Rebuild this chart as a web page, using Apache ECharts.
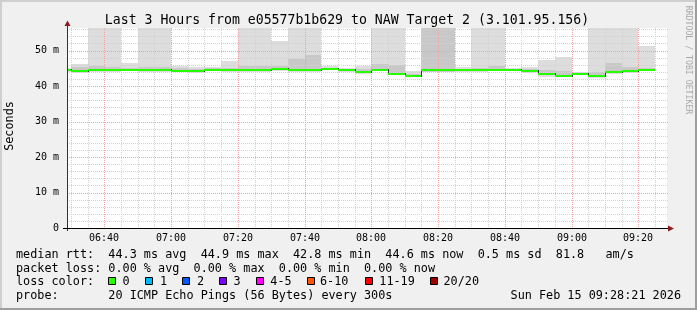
<!DOCTYPE html>
<html><head><meta charset="utf-8">
<script src="https://cdn.jsdelivr.net/npm/echarts@6/dist/echarts.min.js"></script>
<style>html,body{margin:0;padding:0;background:#f0f0f0}#c{width:697px;height:310px}</style>
</head><body><div id="c"></div>
<script>
// ---- data (5-minute SmokePing steps, values in ms) ----
const intervalStart = ['06:25','06:30','06:35','06:40','06:45','06:50','06:55','07:00','07:05','07:10',
  '07:15','07:20','07:25','07:30','07:35','07:40','07:45','07:50','07:55','08:00',
  '08:05','08:10','08:15','08:20','08:25','08:30','08:35','08:40','08:45','08:50',
  '08:55','09:00','09:05','09:10','09:15','09:20'];
const medianRtt = [44.5,44.3,44.6,44.6,44.6,44.6,44.6,44.3,44.35,44.6,
  44.4,44.4,44.4,44.9,44.6,44.6,44.9,44.4,44.0,44.6,
  43.5,42.9,44.4,44.4,44.4,44.4,44.6,44.6,44.2,43.3,
  42.9,43.5,42.7,44.0,44.3,44.6];
const smokeLow = [44.0,43.8,44.0,44.0,44.1,44.0,44.0,43.9,43.8,44.1,
  43.9,43.9,43.9,44.3,44.0,44.0,44.4,44.0,43.4,44.1,
  43.0,42.4,43.9,43.9,43.9,43.9,44.1,44.1,43.7,42.6,
  42.4,43.1,42.2,43.5,43.8,44.1];
const smokeHigh = [45.0,46.2,57,57,46.4,57,57,45.7,45.4,45.4,
  47.1,57,57,52.8,57,57,45.5,45.0,45.7,57,
  57,44.2,57,57,45.3,57,57,45.1,45.3,47.4,
  48.2,44.0,57,57,57,51.4];
const coreLow = [44.2,44.0,44.3,44.3,44.3,44.3,44.3,44.1,44.1,44.3,
  44.2,44.1,44.1,44.6,44.2,44.2,44.6,44.2,43.7,44.3,
  43.3,42.7,43.9,43.9,44.2,44.2,44.3,44.3,44.0,43.0,
  42.6,43.3,42.5,43.8,44.0,44.3];
const coreHigh = [44.8,45.4,45.5,45.4,45.0,45.3,45.3,45.0,44.9,45.0,
  45.2,45.5,45.5,45.5,47.7,48.7,45.2,44.8,44.7,46.1,
  46.0,43.4,57,57,44.9,45.0,45.6,44.9,44.7,44.5,
  44.3,43.8,44.0,46.5,45.4,45.2];
const stepMinutes = 5;
const yTickValues = [0,10,20,30,40,50];
const xTickLabels = ['06:40','07:00','07:20','07:40','08:00','08:20','08:40','09:00','09:20'];
const viewStart = '06:28:49', viewEnd = '09:28:36';
const yMax = 56.34;
const lossLabels = ['0','1','2','3','4-5','6-10','11-19','20/20'];
const lossColors = ['#26ff00','#00b8ff','#0059ff','#7e00ff','#ff00ff','#ff5500','#ff0000','#a10000'];

function toMin(s){ const p = s.split(':').map(Number); return p[0]*60 + p[1] + (p[2]||0)/60; }
const X0 = toMin(viewStart), X1 = toMin(viewEnd);
const FONT = 'DejaVu Sans Mono';

const smokeData = intervalStart.map((s,i)=>[toMin(s), toMin(s)+stepMinutes, smokeLow[i], smokeHigh[i]]);
const coreData = intervalStart.map((s,i)=>[toMin(s), toMin(s)+stepMinutes, coreLow[i], coreHigh[i]]);
const medData = intervalStart.map((s,i)=>[toMin(s), toMin(s)+stepMinutes, medianRtt[i], medianRtt[i>0?i-1:0]]);

function rectItem(color){
  return function(params, api){
    const a = api.coord([api.value(0), api.value(3)]);
    const b = api.coord([api.value(1), api.value(2)]);
    const x0 = Math.round(a[0]), x1 = Math.round(b[0]);
    const y0 = Math.round(a[1]), y1 = Math.round(b[1]);
    return {type:'rect', shape:{x:x0, y:y0, width:x1-x0, height:y1-y0}, style:{fill:color}};
  };
}

// grid positions
const vMinor = [];
for (let t = toMin('06:30'); t <= toMin('09:25'); t += stepMinutes) vMinor.push([t, 0]);
const vMajor = xTickLabels.map(l => [toMin(l), 0, l]);
const hMinor = [];
for (let v = 2; v < yMax; v += 2) if (v % 10 !== 0) hMinor.push([0, v]);
const hMajor = yTickValues.filter(v => v > 0).map(v => [0, v]);

function vLine(color, withLabel){
  return function(params, api){
    const cs = params.coordSys;
    const p = api.coord([api.value(0), 0]);
    const x = Math.round(p[0]) + 0.5;
    const children = [{type:'line', shape:{x1:x, y1:cs.y, x2:x, y2:cs.y+cs.height},
      style:{stroke:color, lineWidth:1, lineDash:[1,1]}}];
    if (withLabel) children.push({type:'text', x:Math.round(p[0]), y:cs.y+cs.height+10.5,
      style:{text:api.value(2), font:'10px "'+FONT+'"', fill:'#000', align:'center', verticalAlign:'middle'}});
    return {type:'group', children};
  };
}
function hLine(color){
  return function(params, api){
    const cs = params.coordSys;
    const p = api.coord([X0, api.value(1)]);
    const y = Math.round(p[1]) + 0.5;
    return {type:'line', shape:{x1:cs.x, y1:y, x2:cs.x+cs.width+2, y2:y},
      style:{stroke:color, lineWidth:1, lineDash:[1,1]}};
  };
}
function medItem(params, api){
  const a = api.coord([api.value(0), api.value(2)]);
  const b = api.coord([api.value(1), api.value(2)]);
  const pv = api.coord([api.value(0), api.value(3)]);
  const x0 = Math.round(a[0]), x1 = Math.round(b[0]);
  const y = Math.round(a[1]), yp = Math.round(pv[1]);
  return {type:'group', children:[
    {type:'line', shape:{x1:x0+0.5, y1:Math.min(y,yp)-1, x2:x0+0.5, y2:Math.max(y,yp)+1}, style:{stroke:'#333', lineWidth:1}},
    {type:'rect', shape:{x:x0, y:y-1, width:x1-x0, height:2}, style:{fill:'#26ff00'}}
  ]};
}

const chart = echarts.init(document.getElementById('c'), null, {renderer:'canvas'});
const graphic = [
  {type:'text', x:347, y:20.5, style:{text:'Last 3 Hours from e05577b1b629 to NAW Target 2 (3.101.95.156)', font:'13.2px "'+FONT+'"', fill:'#000', align:'center', verticalAlign:'middle'}},
  {type:'text', x:10, y:126, rotation:Math.PI/2, style:{text:'Seconds', font:'11.8px "'+FONT+'"', fill:'#000', align:'center', verticalAlign:'middle'}},
  {type:'text', x:688, y:60, rotation:-Math.PI/2, style:{text:'RRDTOOL / TOBI OETIKER', font:'8.2px "'+FONT+'"', fill:'#a8a8a8', align:'center', verticalAlign:'middle'}},
  // axes
  {type:'line', z:20, shape:{x1:67.5, y1:24, x2:67.5, y2:231}, style:{stroke:'#333', lineWidth:1}},
  {type:'line', z:20, shape:{x1:63, y1:228.5, x2:669, y2:228.5}, style:{stroke:'#000', lineWidth:1}},
  {type:'polygon', z:21, shape:{points:[[64.5,26],[70.5,26],[67.5,20.5]]}, style:{fill:'#8c1c1c'}},
  {type:'polygon', z:21, shape:{points:[[668,225.5],[668,231.5],[674,228.5]]}, style:{fill:'#8c1c1c'}},
  // border
  {type:'rect', shape:{x:0, y:0, width:697, height:2}, style:{fill:'#cfcfcf'}},
  {type:'rect', shape:{x:0, y:0, width:2, height:310}, style:{fill:'#cfcfcf'}},
  {type:'rect', shape:{x:0, y:308, width:697, height:2}, style:{fill:'#9e9e9e'}},
  {type:'rect', shape:{x:695, y:0, width:2, height:310}, style:{fill:'#9e9e9e'}},
  // legend
  {type:'text', x:16, y:255, style:{text:'median rtt:  44.3 ms avg  44.9 ms max  42.8 ms min  44.6 ms now  0.5 ms sd  81.8   am/s', font:'11.8px "'+FONT+'"', fill:'#000', verticalAlign:'middle'}},
  {type:'text', x:16, y:268.5, style:{text:'packet loss: 0.00 % avg  0.00 % max  0.00 % min  0.00 % now', font:'11.8px "'+FONT+'"', fill:'#000', verticalAlign:'middle'}},
  {type:'text', x:16, y:282, style:{text:'loss color:', font:'11.8px "'+FONT+'"', fill:'#000', verticalAlign:'middle'}},
  {type:'text', x:16, y:295.5, style:{text:'probe:       20 ICMP Echo Pings (56 Bytes) every 300s', font:'11.8px "'+FONT+'"', fill:'#000', verticalAlign:'middle'}},
  {type:'text', x:681, y:295.5, style:{text:'Sun Feb 15 09:28:21 2026', font:'11.8px "'+FONT+'"', fill:'#000', align:'right', verticalAlign:'middle'}}
];
const boxX = [108.5,145.5,182.5,219.5,256.5,307.5,365.5,430.5];
const lblX = [122.5,160,197,233.5,270.3,320,379.3,443.5];
lossLabels.forEach((l,i)=>{
  graphic.push({type:'rect', shape:{x:boxX[i], y:277.5, width:7, height:7}, style:{fill:lossColors[i], stroke:'#000', lineWidth:1}});
  graphic.push({type:'text', x:lblX[i], y:282, style:{text:l, font:'11.8px "'+FONT+'"', fill:'#000', verticalAlign:'middle'}});
});

chart.setOption({
  animation:false,
  backgroundColor:'#f0f0f0',
  grid:{left:67, top:28, width:600, height:200, show:true, backgroundColor:'#ffffff', borderWidth:0},
  xAxis:{type:'value', min:X0, max:X1, show:false},
  yAxis:{type:'value', min:0, max:yMax, interval:10,
    axisLine:{show:false}, axisTick:{show:false}, splitLine:{show:false},
    axisLabel:{showMaxLabel:false, margin:8, fontFamily:FONT, fontSize:10, color:'#000',
      padding:[3,0,0,0], formatter:v => v === 0 ? '0' : v + ' m'}},
  graphic,
  series:[
    {type:'custom', z:2, clip:true, renderItem:rectItem('#dddddd'), data:smokeData, silent:true},
    {type:'custom', z:2.1, clip:true, renderItem:rectItem('#c8c8c8'), data:coreData, silent:true},
    {type:'custom', z:3, clip:false, renderItem:hLine('#d2d2d2'), data:hMinor, silent:true},
    {type:'custom', z:3, clip:false, renderItem:vLine('#d2d2d2', false), data:vMinor, silent:true},
    {type:'custom', z:3.1, clip:false, renderItem:hLine('#f3a0a0'), data:hMajor, silent:true},
    {type:'custom', z:3.1, clip:false, renderItem:vLine('#f3a0a0', true), data:vMajor, silent:true},
    {type:'custom', z:5, clip:true, renderItem:medItem, data:medData, silent:true}
  ]
});
</script></body></html>
